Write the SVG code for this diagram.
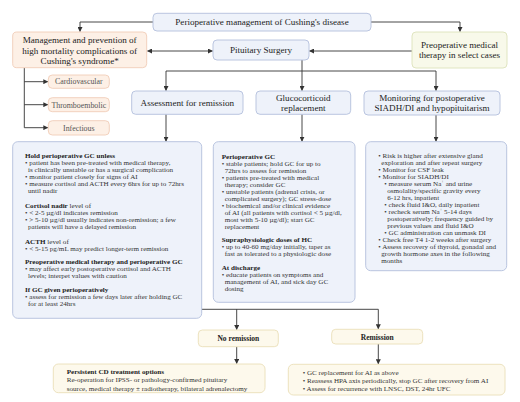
<svg xmlns="http://www.w3.org/2000/svg" width="520" height="402" viewBox="0 0 520 402">
<defs>
<marker id="ah" markerWidth="5" markerHeight="5" refX="4.5" refY="2.5" orient="auto" markerUnits="userSpaceOnUse"><path d="M0,0 L5,2.5 L0,5 z" fill="#333"/></marker>
<marker id="as" markerWidth="5" markerHeight="5" refX="0.5" refY="2.5" orient="auto" markerUnits="userSpaceOnUse"><path d="M5,0 L0,2.5 L5,5 z" fill="#333"/></marker>
</defs>
<style>
text{font-family:"Liberation Serif","Times New Roman",serif;fill:#222}
.n{font-size:9.1px;text-anchor:middle}
.s{font-size:7.9px;text-anchor:middle;fill:#555}
.d{font-size:7.1px;fill:#333}
.h{font-size:7.1px;font-weight:bold;fill:#222}
.r{font-size:7.5px;font-weight:bold;text-anchor:middle;fill:#222}
.b{fill:#eef2fa;stroke:#b3bfdc;stroke-width:0.9}
.o{fill:#fdf0e6;stroke:#f1cdb8;stroke-width:0.9}
.g{fill:#f8f9ea;stroke:#dde2bb;stroke-width:0.9}
.y{fill:#fdf9ec;stroke:#eadfb9;stroke-width:0.9}
.c{fill:none;stroke:#333;stroke-width:0.9}
</style>
<rect width="520" height="402" fill="#ffffff"/>
<g id="connectors">
<path class="c" d="M153,22 H80 V31.5" marker-end="url(#ah)"/>
<path class="c" d="M371,22 H460 V31.5" marker-end="url(#ah)"/>
<path class="c" d="M147.5,51 H212.5" marker-start="url(#as)" marker-end="url(#ah)"/>
<path class="c" d="M412,51 H309.5" marker-end="url(#ah)"/>
<path class="c" d="M302,60 V90.5" marker-end="url(#ah)"/>
<path class="c" d="M166,71 H436"/>
<path class="c" d="M166,71 V90.5" marker-end="url(#ah)"/>
<path class="c" d="M436,71 V90.5" marker-end="url(#ah)"/>
<path class="c" d="M24.3,67.7 V127.7"/>
<path class="c" d="M24.3,81.7 H47.8" marker-end="url(#ah)"/>
<path class="c" d="M24.3,104.7 H47.8" marker-end="url(#ah)"/>
<path class="c" d="M24.3,127.7 H47.8" marker-end="url(#ah)"/>
<path class="c" d="M166,114.3 V141.2" marker-end="url(#ah)"/>
<path class="c" d="M302,114.3 V141.2" marker-end="url(#ah)"/>
<path class="c" d="M436,115 V141.2" marker-end="url(#ah)"/>
<path class="c" d="M201.7,309.3 H378.3"/>
<path class="c" d="M236.7,309.3 V329.5" marker-end="url(#ah)"/>
<path class="c" d="M378.3,309.3 V328.8" marker-end="url(#ah)"/>
<path class="c" d="M236.7,346.7 V363.5" marker-end="url(#ah)"/>
<path class="c" d="M378.3,344 V363.8" marker-end="url(#ah)"/>
</g>
<g id="title">
<rect class="b" x="153" y="13.3" width="218" height="17.7" rx="4"/>
<text class="n" x="262" y="25.3">Perioperative management of Cushing's disease</text>
</g>
<g id="management">
<rect class="o" x="12.7" y="32" width="134" height="35.7" rx="4"/>
<text class="n" x="79.7" y="43">Management and prevention of</text>
<text class="n" x="79.7" y="53.5">high mortality complications of</text>
<text class="n" x="79.7" y="64">Cushing's syndrome*</text>
</g>
<g id="cardiovascular">
<rect class="o" x="48.3" y="75" width="61" height="13.3" rx="4"/>
<text class="s" x="78.8" y="84.4">Cardiovascular</text>
</g>
<g id="thromboembolic">
<rect class="o" x="48.3" y="97.7" width="61" height="14" rx="4"/>
<text class="s" x="78.8" y="107.5">Thromboembolic</text>
</g>
<g id="infectious">
<rect class="o" x="48.3" y="120.7" width="61" height="14.3" rx="4"/>
<text class="s" x="78.8" y="130.7">Infectious</text>
</g>
<g id="pituitary">
<rect class="b" x="213" y="40" width="96" height="20" rx="4"/>
<text class="n" x="261" y="53.2">Pituitary Surgery</text>
</g>
<g id="preop">
<rect class="g" x="412" y="32" width="95" height="36" rx="4"/>
<text class="n" x="459.5" y="47.5">Preoperative medical</text>
<text class="n" x="459.5" y="58.3">therapy in select cases</text>
</g>
<g id="assessment">
<rect class="b" x="131.7" y="91" width="111.3" height="23.3" rx="4"/>
<text class="n" x="187.3" y="105.7">Assessment for remission</text>
</g>
<g id="glucocorticoid">
<rect class="b" x="256" y="91" width="94.7" height="23.3" rx="4"/>
<text class="n" x="303.3" y="100.8">Glucocorticoid</text>
<text class="n" x="303.3" y="111">replacement</text>
</g>
<g id="monitoring">
<rect class="b" x="364" y="91" width="136" height="24" rx="4"/>
<text class="n" x="432" y="100.8">Monitoring for postoperative</text>
<text class="n" x="432" y="111">SIADH/DI and hypopituitarism</text>
</g>
<g id="assessment-details">
<rect class="b" x="12.7" y="141.7" width="189" height="176.6" rx="5"/>
<text class="h" x="25" y="158.2">Hold perioperative GC unless</text>
<text class="d" x="25" y="165.2">• patient has been pre-treated with medical therapy,</text>
<text class="d" x="28" y="172.2">is clinically unstable or has a surgical complication</text>
<text class="d" x="25" y="179.2">• monitor patient closely for signs of AI</text>
<text class="d" x="25" y="186.2">• measure cortisol and ACTH every 6hrs for up to 72hrs</text>
<text class="d" x="28" y="193.2">until nadir</text>
<text class="d" x="25" y="207.5"><tspan class="h">Cortisol nadir</tspan> level of</text>
<text class="d" x="25" y="214.5">• &lt; 2-5 µg/dl indicates remission</text>
<text class="d" x="25" y="221.5">• &gt; 5-10 µg/dl usually indicates non-remission; a few</text>
<text class="d" x="28" y="228.5">patients will have a delayed remission</text>
<text class="d" x="25" y="243.5"><tspan class="h">ACTH</tspan> level of</text>
<text class="d" x="25" y="250.5">• &lt; 5-15 pg/mL may predict longer-term remission</text>
<text class="h" x="25" y="264.4">Preoperative medical therapy and perioperative GC</text>
<text class="d" x="25" y="271.4">• may affect early postoperative cortisol and ACTH</text>
<text class="d" x="28" y="278.4">levels; interpet values with caution</text>
<text class="h" x="25" y="292.2">If GC given perioperatively</text>
<text class="d" x="25" y="299.2">• assess for remission a few days later after holding GC</text>
<text class="d" x="28" y="306.2">for at least 24hrs</text>
</g>
<g id="gc-details">
<rect class="b" x="213.3" y="141.7" width="141.7" height="160.6" rx="5"/>
<text class="h" x="221.7" y="158.5">Perioperative GC</text>
<text class="d" x="221.7" y="165.5">• stable patients; hold GC for up to</text>
<text class="d" x="224.7" y="172.5">72hrs to assess for remission</text>
<text class="d" x="221.7" y="179.5">• patients pre-treated with medical</text>
<text class="d" x="224.7" y="186.5">therapy; consider GC</text>
<text class="d" x="221.7" y="193.5">• unstable patients (adrenal crisis, or</text>
<text class="d" x="224.7" y="200.5">complicated surgery); GC stress-dose</text>
<text class="d" x="221.7" y="207.5">• biochemical and/or clinical evidence</text>
<text class="d" x="224.7" y="214.5">of AI (all patients with cortisol &lt; 5 µg/dl,</text>
<text class="d" x="224.7" y="221.5">most with 5-10 µg/dl); start GC</text>
<text class="d" x="224.7" y="228.5">replacement</text>
<text class="h" x="221.7" y="241.9">Supraphysiologic doses of HC</text>
<text class="d" x="221.7" y="248.9">• up to 40-60 mg/day initially, taper as</text>
<text class="d" x="224.7" y="255.9">fast as tolerated to a physiologic dose</text>
<text class="h" x="221.7" y="269.5">At discharge</text>
<text class="d" x="221.7" y="276.5">• educate patients on symptoms and</text>
<text class="d" x="224.7" y="283.5">management of AI, and sick day GC</text>
<text class="d" x="224.7" y="290.5">dosing</text>
</g>
<g id="monitoring-details">
<rect class="b" x="365.7" y="141.7" width="141" height="129" rx="5"/>
<text class="d" x="378.3" y="157.6">• Risk is higher after extensive gland</text>
<text class="d" x="381.3" y="164.6">exploration and after repeat surgery</text>
<text class="d" x="378.3" y="171.6">• Monitor for CSF leak</text>
<text class="d" x="378.3" y="178.6">• Monitor for SIADH/DI</text>
<text class="d" x="384.3" y="185.6">• measure serum Na<tspan font-size="4.5" dy="-2.5">+</tspan><tspan dy="2.5"> and urine</tspan></text>
<text class="d" x="387.3" y="192.6">osmolality/specific gravity every</text>
<text class="d" x="387.3" y="199.6">6-12 hrs, inpatient</text>
<text class="d" x="384.3" y="206.6">• check fluid I&amp;O, daily inpatient</text>
<text class="d" x="384.3" y="213.6">• recheck serum Na<tspan font-size="4.5" dy="-2.5">+</tspan><tspan dy="2.5"> 5-14 days</tspan></text>
<text class="d" x="387.3" y="220.6">postoperatively; frequency guided by</text>
<text class="d" x="387.3" y="227.6">previous values and fluid I&amp;O</text>
<text class="d" x="384.3" y="234.6">• GC administration can unmask DI</text>
<text class="d" x="378.3" y="241.6">• Check free T4 1-2 weeks after surgery</text>
<text class="d" x="378.3" y="248.6">• Assess recovery of thyroid, gonadal and</text>
<text class="d" x="381.3" y="255.6">growth hormone axes in the following</text>
<text class="d" x="381.3" y="262.6">months</text>
</g>
<g id="no-remission">
<rect class="y" x="198.3" y="330" width="80" height="16.7" rx="4"/>
<text class="r" x="238.3" y="341">No remission</text>
</g>
<g id="remission">
<rect class="y" x="331.7" y="329.3" width="91" height="14.7" rx="4"/>
<text class="r" x="377.2" y="339.5">Remission</text>
</g>
<g id="persistent">
<rect class="y" x="53.3" y="364" width="211.7" height="28.7" rx="5"/>
<text class="h" x="66.7" y="374">Persistent CD treatment options</text>
<text class="d" x="66.7" y="382.3">Re-operation for IPSS- or pathology-confirmed pituitary</text>
<text class="d" x="66.7" y="390.6">source, medical therapy ± radiotherapy, bilateral adrenalectomy</text>
</g>
<g id="remission-plan">
<rect class="y" x="288.3" y="364.3" width="216.7" height="30.7" rx="5"/>
<text class="d" x="302.7" y="375">• GC replacement for AI as above</text>
<text class="d" x="302.7" y="383">• Reassess HPA axis periodically, stop GC after recovery from AI</text>
<text class="d" x="302.7" y="391">• Assess for recurrence with LNSC, DST, 24hr UFC</text>
</g>
</svg>
